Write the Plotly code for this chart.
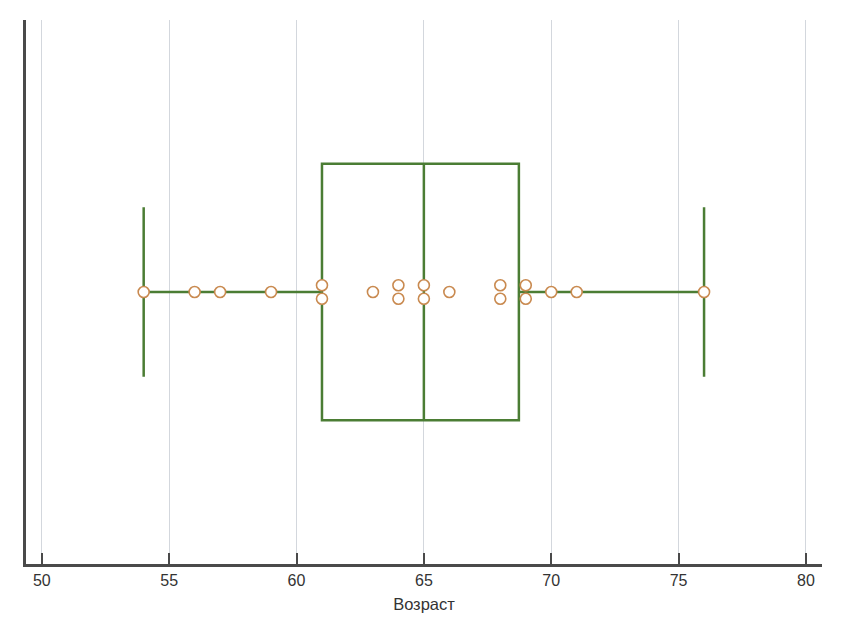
import plotly.graph_objects as go

# Data
ages = [54, 56, 57, 59, 61, 61, 63, 64, 64, 65, 65, 66, 68, 68, 69, 69, 70, 71, 76]
point_offsets = [0, 0, 0, 0, 0.025, -0.025, 0, 0.025, -0.025, 0.025, -0.025, 0,
                 0.025, -0.025, 0.025, -0.025, 0, 0, 0]
box_q1 = [61]
box_median = [65]
box_q3 = [68.73]
box_low = [54]
box_high = [76]
x_ticks = [50, 55, 60, 65, 70, 75, 80]
x_title = "Возраст"

green = "#4b7d34"
orange = "#c98a50"

fig = go.Figure()
fig.add_trace(go.Box(
    y=[0], q1=box_q1, median=box_median, q3=box_q3,
    lowerfence=box_low, upperfence=box_high,
    orientation="h", width=0.943, whiskerwidth=0.66,
    line=dict(color=green, width=2.5), fillcolor="rgba(0,0,0,0)",
    boxpoints=False, hoverinfo="skip", showlegend=False,
))
fig.add_trace(go.Scatter(
    x=ages, y=point_offsets, mode="markers",
    marker=dict(size=11, color="white", line=dict(color=orange, width=1.6)),
    showlegend=False,
))

fig.update_layout(
    width=835, height=625,
    margin=dict(l=18, r=21, t=12, b=69, autoexpand=False),
    plot_bgcolor="white", paper_bgcolor="white",
    font=dict(family="Liberation Sans, Arial, sans-serif", size=16, color="#333"),
    xaxis=dict(
        range=[49.38, 80.63], tickvals=x_ticks, automargin=False,
        showgrid=True, gridcolor="#d3d7dd", gridwidth=1,
        showline=True, linecolor="#4a4a4a", linewidth=2.5,
        ticks="inside", ticklen=11, tickwidth=1.5, tickcolor="#4a4a4a",
        zeroline=False,
        title=dict(text=x_title, font=dict(size=16.5, color="#333"), standoff=11),
        tickfont=dict(size=16, color="#333"),
    ),
    yaxis=dict(
        range=[-1, 1], showticklabels=False, showgrid=False, zeroline=False,
        automargin=False,
        showline=True, linecolor="#4a4a4a", linewidth=2.5, ticks="",
    ),
)

fig.write_html("out.html")
